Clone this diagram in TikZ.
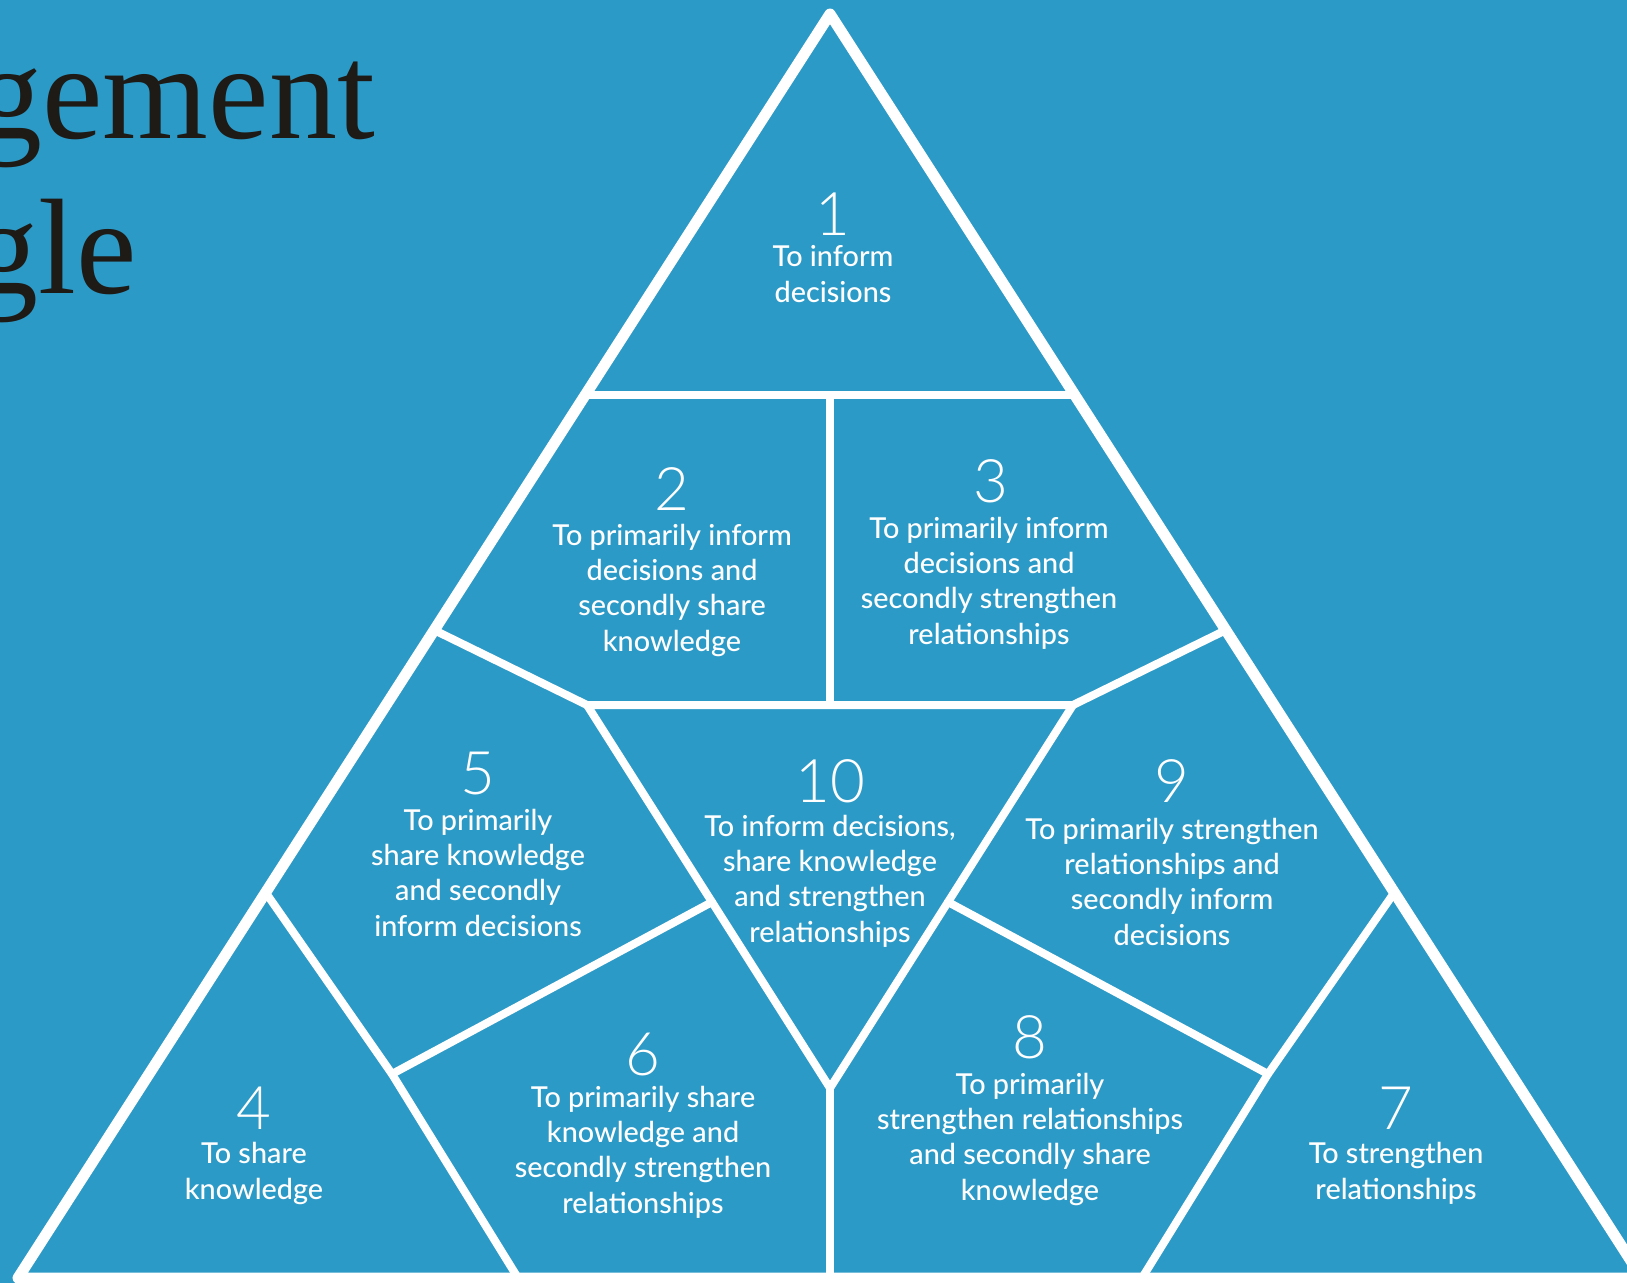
\documentclass[tikz,border=0pt]{standalone}
\usepackage{fontspec}
\newfontfamily\bodyfont{Lato Medium}
\newfontfamily\numfont{Lato Light}
\newfontfamily\titlefont{Liberation Serif}
\definecolor{sea}{RGB}{44,154,199}
\definecolor{ink}{RGB}{30,26,22}

\begin{document}
\begin{tikzpicture}[x=1pt,y=-1pt,
  rim/.style={white,line width=11pt,line join=round},
  seam/.style={white,line width=8pt,line cap=round,line join=round},
  num/.style={white,anchor=base,inner sep=0pt,font=\numfont\fontsize{60}{60}\selectfont},
  txt/.style={white,anchor=base,align=center,inner sep=0pt,font=\bodyfont\fontsize{28.8}{35.3}\selectfont}]
	\useasboundingbox (0,0) rectangle (1627,1283);
	\clip (0,0) rectangle (1627,1283);
	\fill[sea] (0,0) rectangle (1627,1283);
	% heading, cut off at the left
	\node[anchor=base east,inner sep=0pt,text=ink,font=\titlefont\fontsize{136}{136}\selectfont] (w1) at (375,138) {gement};
	\node[anchor=base east,inner sep=0pt,text=ink,font=\titlefont\fontsize{136}{136}\selectfont] (w2) at (137,293) {gle};
	% corners and joints
	\coordinate (A) at (830,14);
	\coordinate (BL) at (18,1278);
	\coordinate (BR) at (1642,1278);
	\coordinate (L1) at (585,395);
	\coordinate (R1) at (1075,395);
	\coordinate (M1) at (830,395);
	\coordinate (L2) at (434,630);
	\coordinate (R2) at (1226,630);
	\coordinate (P) at (587,705);
	\coordinate (Q) at (1073,705);
	\coordinate (M2) at (830,705);
	\coordinate (V) at (830,1088);
	\coordinate (B0) at (830,1278);
	\coordinate (J1) at (712,902);
	\coordinate (J2) at (948,902);
	\coordinate (L3) at (266,893);
	\coordinate (R3) at (1394,893);
	\coordinate (K1) at (392,1074);
	\coordinate (K2) at (1268,1074);
	\coordinate (F1) at (518,1278);
	\coordinate (F2) at (1142,1278);
	% inner seams
	\draw[seam] (L1) -- (R1);
	\draw[seam] (M1) -- (M2);
	\draw[seam] (L2) -- (P) -- (Q) -- (R2);
	\draw[seam] (P) -- (V) -- (Q);
	\draw[seam] (V) -- (B0);
	\draw[seam] (J1) -- (K1);
	\draw[seam] (J2) -- (K2);
	\draw[seam] (L3) -- (K1) -- (F1);
	\draw[seam] (R3) -- (K2) -- (F2);
	% outer triangle
	\draw[rim] (A) -- (BL) -- (BR) -- cycle;
	% labels (text nodes sit on the baseline of their last line)
	\node[num] (n1) at (833,235) {1};
	\node[txt] (t1) at (833,302) {To inform\\decisions};
	\node[num] (n2) at (672,510) {2};
	\node[txt] (t2) at (672,651) {To primarily inform\\decisions and\\secondly share\\knowledge};
	\node[num] (n3) at (991,502) {3};
	\node[txt] (t3) at (989,644) {To primarily inform\\decisions and\\secondly strengthen\\relationships};
	\node[num] (n4) at (254,1129) {4};
	\node[txt] (t4) at (254,1199) {To share\\knowledge};
	\node[num] (n5) at (478,794) {5};
	\node[txt] (t5) at (478,936) {To primarily\\share knowledge\\and secondly\\inform decisions};
	\node[num] (n6) at (643,1075) {6};
	\node[txt] (t6) at (643,1213) {To primarily share\\knowledge and\\secondly strengthen\\relationships};
	\node[num] (n7) at (1396,1129) {7};
	\node[txt] (t7) at (1396,1199) {To strengthen\\relationships};
	\node[num] (n8) at (1030,1058) {8};
	\node[txt] (t8) at (1030,1200) {To primarily\\strengthen relationships\\and secondly share\\knowledge};
	\node[num] (n9) at (1172,802) {9};
	\node[txt] (t9) at (1172,945) {To primarily strengthen\\relationships and\\secondly inform\\decisions};
	\node[num] (n10) at (830,802) {10};
	\node[txt] (t10) at (830,942) {To inform decisions,\\share knowledge\\and strengthen\\relationships};
\end{tikzpicture}
\end{document}
